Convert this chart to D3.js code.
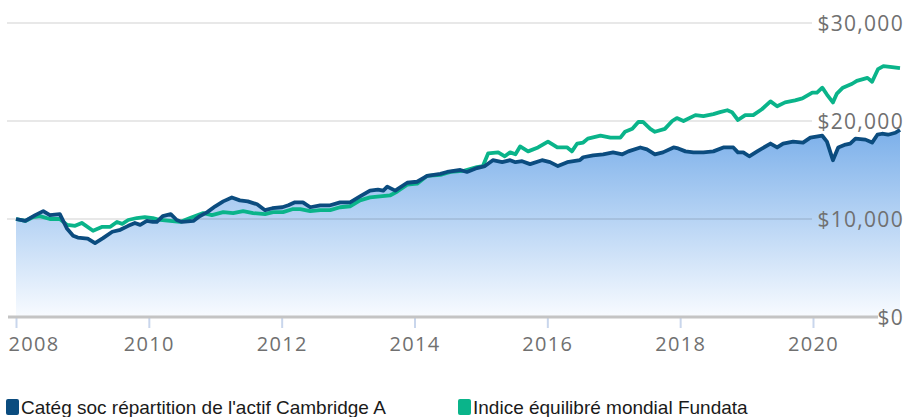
<!DOCTYPE html>
<html>
<head>
<meta charset="utf-8">
<script src="https://cdn.jsdelivr.net/npm/d3@7"></script>
<style>
  html, body { margin: 0; padding: 0; background: #fff; }
  svg { display: block; }
</style>
</head>
<body>
<svg id="chart" width="905" height="417"></svg>
<script>
// ---- Data ----
const seriesNames = ["Catég soc répartition de l'actif Cambridge A", "Indice équilibré mondial Fundata"];
const seriesColors = ["#0b4c7f", "#0ab48a"];

const catDates = [2008.00,2008.14,2008.29,2008.41,2008.51,2008.66,2008.77,2008.86,2008.93,2009.08,2009.19,2009.31,2009.45,2009.57,2009.69,2009.79,2009.87,2009.97,2010.06,2010.12,2010.21,2010.33,2010.42,2010.50,2010.67,2010.77,2010.88,2011.00,2011.12,2011.25,2011.37,2011.49,2011.63,2011.75,2011.86,2012.01,2012.10,2012.20,2012.32,2012.43,2012.58,2012.73,2012.88,2013.03,2013.18,2013.33,2013.45,2013.53,2013.59,2013.71,2013.89,2014.04,2014.19,2014.39,2014.49,2014.69,2014.79,2014.94,2015.06,2015.18,2015.32,2015.44,2015.52,2015.62,2015.74,2015.92,2016.04,2016.16,2016.30,2016.49,2016.54,2016.69,2016.84,2016.99,2017.13,2017.22,2017.40,2017.50,2017.62,2017.74,2017.90,2017.97,2018.08,2018.20,2018.35,2018.50,2018.65,2018.80,2018.87,2018.95,2019.04,2019.16,2019.36,2019.46,2019.55,2019.70,2019.85,2019.96,2020.14,2020.21,2020.30,2020.38,2020.49,2020.56,2020.64,2020.79,2020.89,2020.97,2021.04,2021.13,2021.24,2021.31];
const catValues = [10000,9800,10400,10800,10400,10500,9000,8300,8100,8000,7550,8050,8700,8900,9300,9600,9400,9800,9700,9700,10300,10500,9900,9700,9800,10300,10700,11300,11800,12200,11900,11800,11500,10900,11100,11200,11400,11700,11700,11200,11400,11400,11700,11700,12300,12900,13000,12900,13300,12900,13700,13800,14400,14600,14800,15000,14800,15200,15400,16000,15800,16000,15800,15900,15600,16000,15800,15400,15800,16000,16300,16500,16600,16800,16600,16900,17300,17100,16600,16800,17300,17200,16900,16800,16800,16900,17300,17300,16800,16800,16400,16900,17700,17300,17700,17900,17800,18300,18500,17900,16000,17300,17600,17700,18200,18100,17800,18600,18700,18600,18800,19100];

const idxDates = [2008.00,2008.14,2008.26,2008.36,2008.51,2008.66,2008.77,2008.89,2008.99,2009.16,2009.30,2009.42,2009.52,2009.60,2009.69,2009.82,2009.94,2010.06,2010.17,2010.32,2010.47,2010.62,2010.82,2010.95,2011.12,2011.27,2011.42,2011.57,2011.75,2011.87,2012.02,2012.16,2012.28,2012.43,2012.58,2012.73,2012.88,2013.03,2013.18,2013.33,2013.48,2013.63,2013.74,2013.89,2014.04,2014.19,2014.39,2014.54,2014.73,2014.94,2015.03,2015.11,2015.26,2015.36,2015.44,2015.52,2015.59,2015.71,2015.86,2016.01,2016.15,2016.30,2016.37,2016.45,2016.54,2016.61,2016.80,2016.95,2017.10,2017.17,2017.28,2017.37,2017.44,2017.55,2017.62,2017.77,2017.88,2017.95,2018.05,2018.23,2018.35,2018.50,2018.60,2018.71,2018.78,2018.87,2018.98,2019.10,2019.23,2019.36,2019.46,2019.58,2019.73,2019.84,2019.99,2020.06,2020.14,2020.21,2020.30,2020.36,2020.45,2020.59,2020.66,2020.82,2020.89,2020.98,2021.06,2021.19,2021.31];
const idxValues = [10000,9800,10200,10300,10000,10000,9400,9300,9600,8800,9200,9200,9700,9500,9900,10100,10200,10100,9900,9800,9700,10100,10600,10400,10700,10600,10800,10600,10500,10700,10700,11000,11000,10800,10900,10900,11200,11300,11900,12200,12300,12400,12800,13500,13600,14400,14500,14800,14900,15300,15400,16700,16800,16400,16800,16600,17400,16900,17300,17900,17300,17300,16900,17700,17800,18200,18500,18300,18300,18900,19200,19900,19900,19200,18900,19200,20000,20300,20000,20600,20500,20700,20900,21100,20900,20100,20600,20600,21200,22000,21500,21900,22100,22300,22900,22900,23400,22700,21900,22800,23400,23800,24100,24400,24000,25300,25600,25500,25400];

const yTicks = [0, 10000, 20000, 30000];
const xTicks = [2008, 2010, 2012, 2014, 2016, 2018, 2020];

// ---- Chart ----
const svg = d3.select("#chart");
const x = d3.scaleLinear().domain([2008, 2021.31]).range([16, 900]);
const y = d3.scaleLinear().domain([0, 30000]).range([317, 23]);

const cat = catDates.map((d, i) => ({ x: d, v: catValues[i] }));
const idx = idxDates.map((d, i) => ({ x: d, v: idxValues[i] }));

const defs = svg.append("defs");
const grad = defs.append("linearGradient")
  .attr("id", "areaGrad")
  .attr("gradientUnits", "userSpaceOnUse")
  .attr("x1", 0).attr("x2", 0)
  .attr("y1", y(19000)).attr("y2", y(0));
grad.append("stop").attr("offset", 0).attr("stop-color", "#7cb0ea");
grad.append("stop").attr("offset", 1).attr("stop-color", "#f8fbff");

// area under first series
svg.append("path")
  .datum(cat)
  .attr("fill", "url(#areaGrad)")
  .attr("d", d3.area().x(d => x(d.x)).y0(y(0)).y1(d => y(d.v)));

// gridlines
svg.append("g")
  .selectAll("line")
  .data(yTicks.filter(t => t > 0))
  .join("line")
  .attr("x1", 7).attr("x2", 812)
  .attr("y1", d => y(d)).attr("y2", d => y(d))
  .attr("stroke", "#000").attr("stroke-opacity", 0.09).attr("stroke-width", 2);

// x axis with d3 axis generator
const xAxis = d3.axisBottom(x).tickValues(xTicks).tickFormat(d3.format("d")).tickSize(11).tickPadding(9);
const gx = svg.append("g").attr("transform", `translate(0,${y(0)})`).call(xAxis);
gx.select(".domain").remove();
gx.selectAll(".tick line").attr("stroke", "#c9d6ec").attr("stroke-width", 2);
gx.selectAll(".tick text")
  .attr("fill", "#707070")
  .style("font-family", "'Open Sans', 'DejaVu Sans', sans-serif")
  .style("font-size", "20px")
  .style("letter-spacing", "1.3px")
  .attr("text-anchor", (d, i) => i === 0 ? "start" : "middle")
  .attr("dx", (d, i) => i === 0 ? -8 : 0);

// bottom baseline
svg.append("line")
  .attr("x1", 8).attr("x2", 878)
  .attr("y1", y(0)).attr("y2", y(0))
  .attr("stroke", "#c4c4c4").attr("stroke-width", 3);

// lines
const line = d3.line().x(d => x(d.x)).y(d => y(d.v));
svg.append("path").datum(idx)
  .attr("fill", "none").attr("stroke", seriesColors[1]).attr("stroke-width", 3.8)
  .attr("stroke-linejoin", "round").attr("d", line);
svg.append("path").datum(cat)
  .attr("fill", "none").attr("stroke", seriesColors[0]).attr("stroke-width", 3.8)
  .attr("stroke-linejoin", "round").attr("d", line);

// y axis labels on the right
const yAxis = d3.axisLeft(y).tickValues(yTicks).tickSize(0).tickPadding(0)
  .tickFormat(d => "$" + d3.format(",")(d));
const gy = svg.append("g").attr("transform", "translate(904,0)").call(yAxis);
gy.select(".domain").remove();
gy.selectAll(".tick text")
  .attr("fill", "#707070")
  .attr("dy", "0.36em")
  .style("font-family", "'Open Sans', 'DejaVu Sans', sans-serif")
  .style("font-size", "21px")
  .style("letter-spacing", "1.3px");

// legend
const legend = svg.append("g");
const legendX = [6, 458];
seriesNames.forEach((name, i) => {
  const g = legend.append("g").attr("transform", `translate(${legendX[i]},399)`);
  g.append("rect").attr("width", 13).attr("height", 16).attr("rx", 2)
    .attr("fill", seriesColors[i]);
  g.append("text").attr("x", 15).attr("y", 14.5)
    .attr("fill", "#1a1a1a")
    .style("font-family", "'Liberation Sans Narrow', 'Arial Narrow', 'Liberation Sans', sans-serif")
    .style("font-size", "19px")
    .text(name);
});
</script>
</body>
</html>
